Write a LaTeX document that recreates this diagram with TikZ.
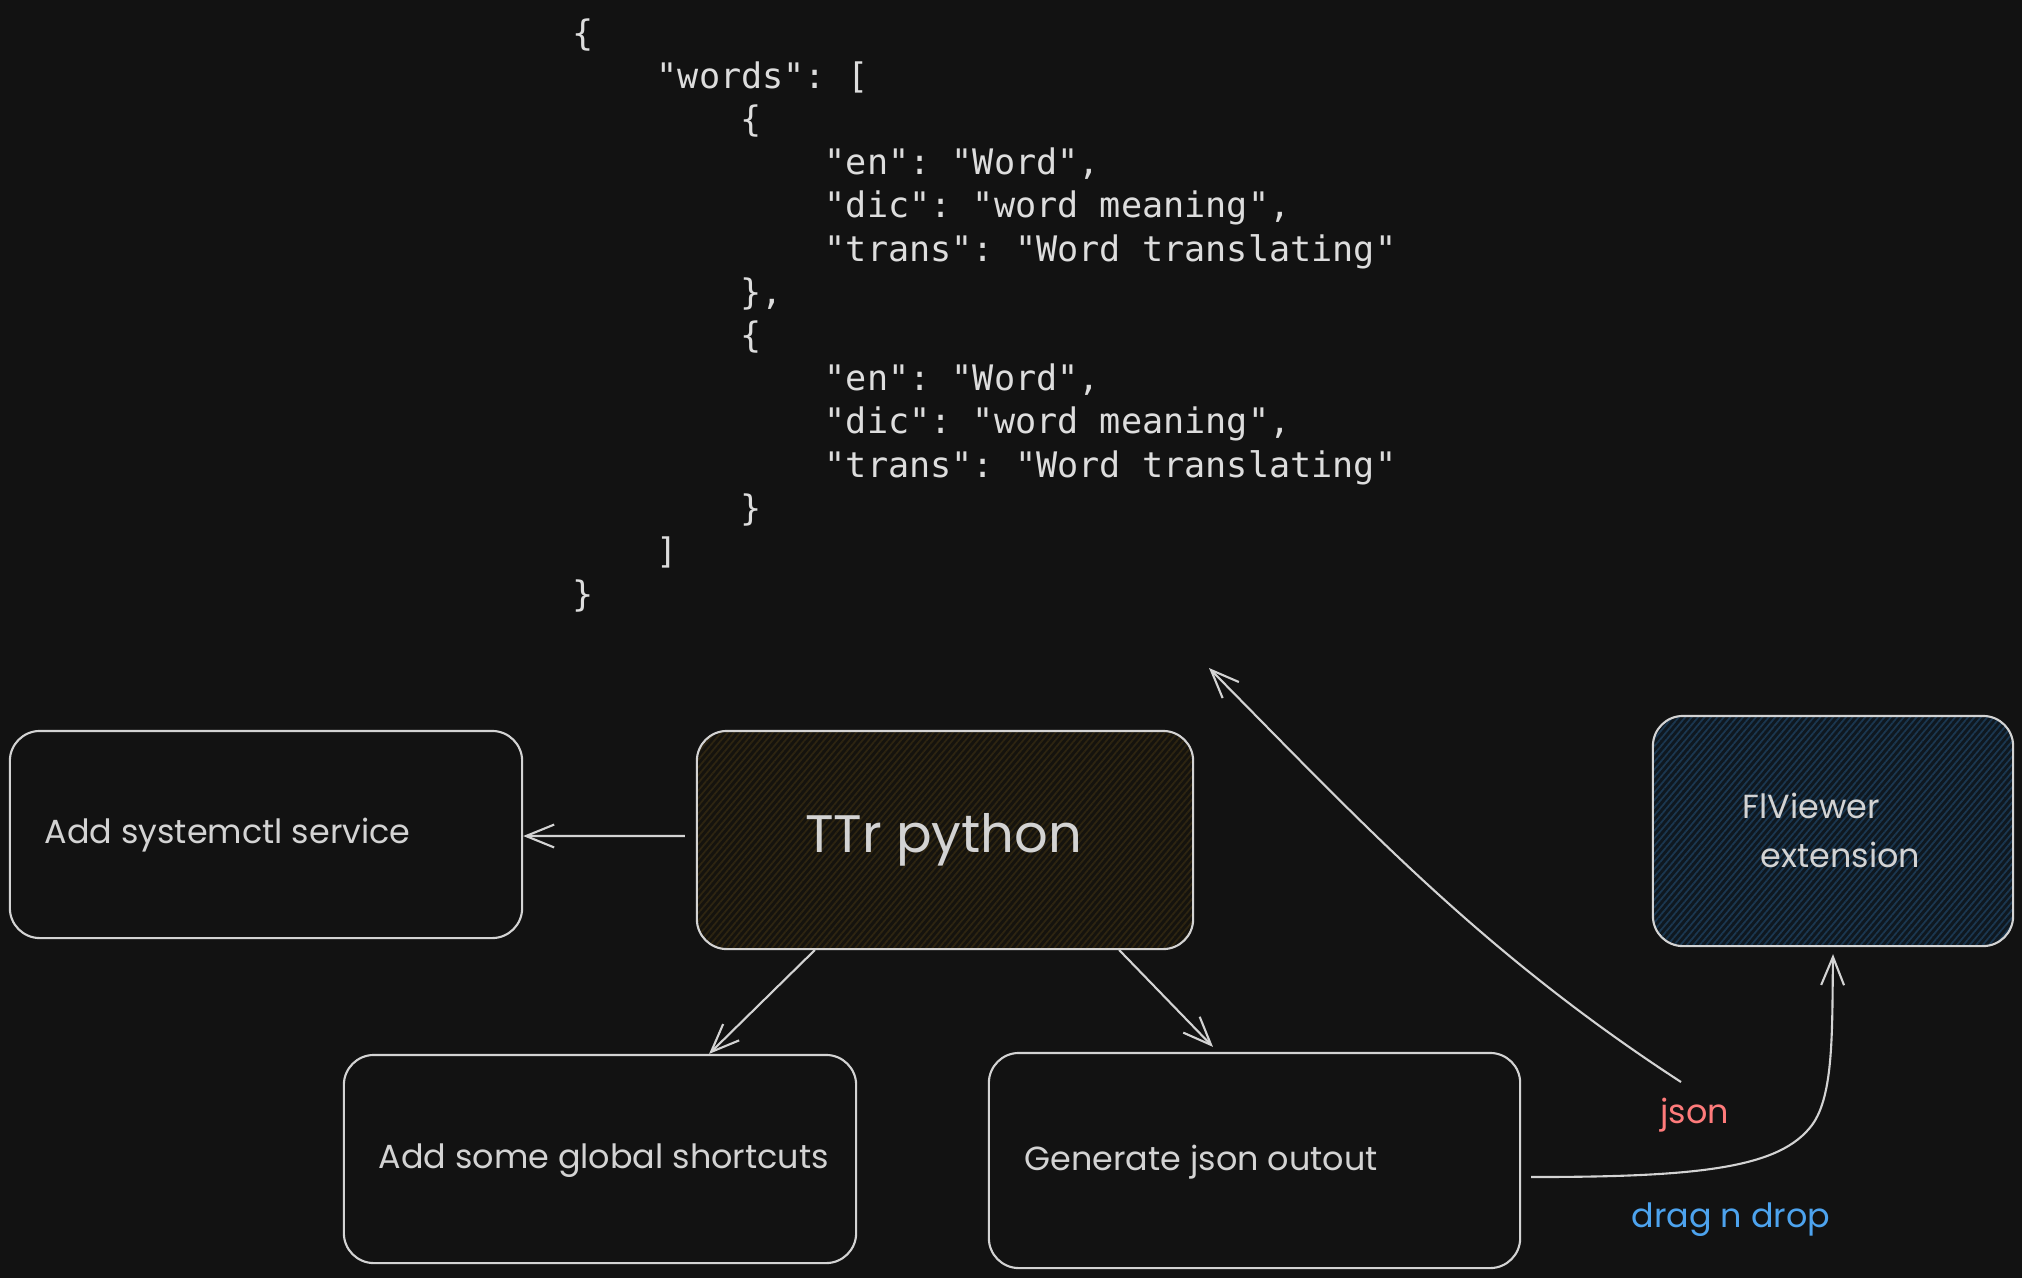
\documentclass[tikz,border=0pt]{standalone}
\usepackage{fontspec}
\newfontfamily\handfont{Poppins}
\newfontfamily\codefont{DejaVu Sans Mono}
\usetikzlibrary{positioning, arrows.meta, patterns.meta}

\definecolor{bgdark}{HTML}{121212}
\definecolor{inkgray}{HTML}{D3D3D3}
\definecolor{codegray}{HTML}{DDDDDD}
\definecolor{ttrfill}{HTML}{15130E}
\definecolor{ttrhatch}{HTML}{2E2511}
\definecolor{flvfill}{HTML}{0F1820}
\definecolor{flvhatch}{HTML}{1B3750}
\definecolor{jsonred}{HTML}{FF7B7B}
\definecolor{dropblue}{HTML}{4DA3EE}

\begin{document}
\begin{tikzpicture}[x=0.01cm, y=-0.01cm]

	% 定义样式
	\tikzset{
		box/.style = {draw=inkgray, line width=0.6pt, rounded corners=0.3cm, inner sep=0pt},
		hatched/.style 2 args = {preaction={fill=#1}, pattern={Lines[angle=50, distance=1.4pt, line width=0.5pt]}, pattern color=#2},
		hand/.style = {text=inkgray, font=\handfont\fontsize{9.5}{12}\selectfont, inner sep=0pt},
		code/.style = {text=codegray, font=\codefont\fontsize{10}{12}\selectfont\frenchspacing, inner sep=0pt, anchor=base west},
		link/.style = {draw=inkgray, line width=0.6pt, -{Straight Barb[length=8pt, width=6.5pt]}}
	}

	% 背景
	\useasboundingbox (0,0) rectangle (2022,1278);
	\fill[bgdark] (0,0) rectangle (2022,1278);

	% json 代码
	\foreach \lvl/\txt [count=\i] in {0/\{, 1/{"words": [}, 2/\{, 3/{"en": "Word",}, 3/{"dic": "word meaning",}, 3/{"trans": "Word translating"}, 2/{\},}, 2/\{, 3/{"en": "Word",}, 3/{"dic": "word meaning",}, 3/{"trans": "Word translating"}, 2/\}, 1/{]}, 0/\}}
		\node[code] (c\i) at ({572+84*\lvl}, {45+43.2*(\i-1)}) {\txt};

	% 方框
	\node[box, minimum width=5.12cm, minimum height=2.07cm] (svc) at (266,834.5) {};
	\node[box, hatched={ttrfill}{ttrhatch}, minimum width=4.96cm, minimum height=2.18cm] (ttr) at (945,840) {};
	\node[box, hatched={flvfill}{flvhatch}, minimum width=3.60cm, minimum height=2.30cm] (flv) at (1833,831) {};
	\node[box, minimum width=5.12cm, minimum height=2.08cm] (keys) at (600,1159) {};
	\node[box, minimum width=5.31cm, minimum height=2.15cm] (gen) at (1254.5,1160.5) {};

	% 文字
	\node[hand, anchor=base west] (svcl) at (44,843) {Add systemctl service};
	\node[hand, anchor=base, font=\handfont\fontsize{15}{18}\selectfont] (ttrl) at (943.5,852) {TTr python};
	\node[hand, anchor=base west] (flvl1) at (1742,818) {FlViewer};
	\node[hand, anchor=base west] (flvl2) at (1760,867) {extension};
	\node[hand, anchor=base west] (keysl) at (378,1168) {Add some global shortcuts};
	\node[hand, anchor=base west] (genl) at (1024,1170) {Generate json outout};
	\node[hand, anchor=base, text=jsonred] (jsonl) at (1694.5,1123) {json};
	\node[hand, anchor=base, text=dropblue] (dropl) at (1731,1227) {drag n drop};

	% 箭头
	\coordinate (jfrom) at (1681,1082);
	\coordinate (jto) at (1209,668);
	\draw[link] ([xshift=-0.11cm, yshift=0.04cm]ttr.west) -- ([yshift=-0.015cm]svc.east);
	\draw[link] ([xshift=-1.3cm]ttr.south) -- ([xshift=1.09cm]keys.north);
	\draw[link] ([xshift=1.74cm]ttr.south) -- ([xshift=-0.415cm, yshift=0.05cm]gen.north);
	\draw[link] (jfrom) .. controls (1481,952) and (1359,820) .. (jto);
	\draw[link] ([xshift=0.1cm, yshift=-0.165cm]gen.east) .. controls (1700,1177) and (1780,1168) .. (1812,1125)
		.. controls (1834,1095) and (1832,1030) .. ([yshift=-0.07cm]flv.south);

\end{tikzpicture}
\end{document}
